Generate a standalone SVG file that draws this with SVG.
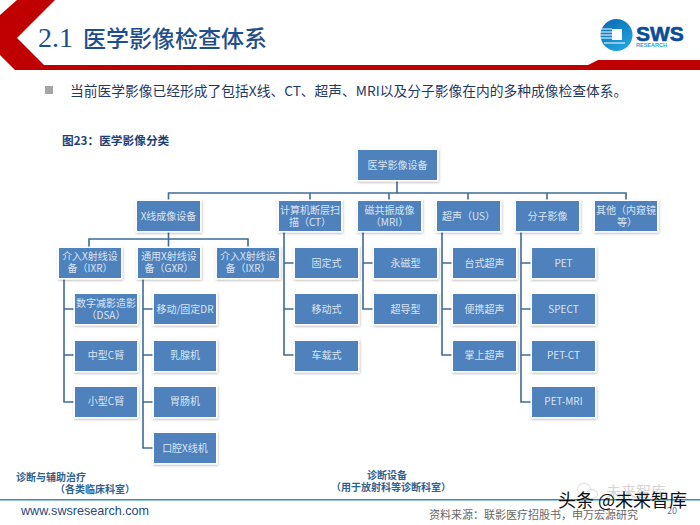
<svg xmlns="http://www.w3.org/2000/svg" width="700" height="525" viewBox="0 0 700 525">
<defs>
<filter id="sh" x="-15%" y="-15%" width="130%" height="140%"><feDropShadow dx="0.5" dy="1" stdDeviation="1" flood-color="#000" flood-opacity="0.3"/></filter>
<linearGradient id="lg" x1="0.2" y1="0" x2="0.8" y2="1"><stop offset="0" stop-color="#0a6db5"/><stop offset="1" stop-color="#22a8e0"/></linearGradient>
</defs>
<style>
text{font-family:"Noto Sans CJK SC","Noto Sans",sans-serif}
.b rect{fill:#4f81bd;stroke:#fff;stroke-width:3;paint-order:stroke;filter:url(#sh)}
.b text{fill:#dbe5f1;font-size:10px;text-anchor:middle}
.c path{fill:none;stroke:#3d6b99;stroke-width:1.6}
.lab{fill:#2f5f8f;font-size:10px;font-weight:700}
</style>
<rect width="700" height="525" fill="#fff"/>
<g id="header">
<polygon points="0,15 17,0 55,0 17,38 44,65 588,65 598,60 700,60 700,70 15,70 0,55" fill="#c00000"/>
<text x="38" y="47" font-size="28" fill="#1f4e8c" style="font-family:'Liberation Serif',serif">2.1</text>
<text x="83" y="47" font-size="23" font-weight="500" fill="#1f4e8c">医学影像检查体系</text>
</g>
<g id="logo">
<circle cx="616.500" cy="35" r="16" fill="url(#lg)"/>
<rect x="612" y="29" width="10" height="11" fill="#fff"/>
<path d="M600 29h12M600 32h12M600 35h12M600 38h12M604 43h21" stroke="#fff" stroke-width="1.200"/>
<text x="636" y="40.500" font-size="21" font-weight="700" fill="#0a4c9a" stroke="#0a4c9a" stroke-width="0.600" style="font-family:'Liberation Sans',sans-serif">SWS</text>
<text x="636" y="46.500" font-size="5.500" font-weight="700" fill="#29a3d8" style="font-family:'Liberation Sans',sans-serif">RESEARCH</text>
</g>
<rect x="45" y="86" width="8" height="8" fill="#a6a6a6"/>
<text x="70" y="96" font-size="13.750" fill="#1f3864">当前医学影像已经形成了包括X线、CT、超声、MRI以及分子影像在内的多种成像检查体系。</text>
<text x="62" y="145" font-size="11.700" font-weight="700" fill="#1f3f77">图23：医学影像分类</text>
<g id="connectors" class="c">
<path d="M397 180V193M168.500 201V193H626V201M310 193V201M389 193V201M468 193V201M547 193V201"/>
<path d="M168.500 231V239M89 248V239H248V248M168.500 239V248"/>
<path d="M64 277V402H75M64 309H75M64 355H75"/>
<path d="M143 277V448H154M143 309H154M143 355H154M143 402H154"/>
<path d="M284 231V355H295M284 263H295M284 309H295"/>
<path d="M363 231V309H374M363 263H374"/>
<path d="M442 231V355H453M442 263H453M442 309H453"/>
<path d="M521 231V402H532M521 263H532M521 309H532M521 355H532"/>
</g>
<g id="n-root" class="b"><rect x="358" y="150" width="79" height="30"/><text x="397.500" y="169">医学影像设备</text></g>
<g id="n-x" class="b"><rect x="137" y="201" width="63" height="30"/><text x="168.500" y="220">X线成像设备</text></g>
<g id="n-ct" class="b"><rect x="279" y="201" width="62" height="30"/><text x="310" y="214">计算机断层扫</text><text x="310" y="226">描（CT）</text></g>
<g id="n-mri" class="b"><rect x="358" y="201" width="63" height="30"/><text x="389.500" y="214">磁共振成像</text><text x="389.500" y="226">（MRI）</text></g>
<g id="n-us" class="b"><rect x="437" y="201" width="63" height="30"/><text x="468.500" y="220">超声（US）</text></g>
<g id="n-mol" class="b"><rect x="516" y="201" width="63" height="30"/><text x="547.500" y="220">分子影像</text></g>
<g id="n-other" class="b"><rect x="595" y="201" width="62" height="30"/><text x="626" y="214">其他（内窥镜</text><text x="627" y="226">等）</text></g>
<g id="n-ixr1" class="b"><rect x="59" y="248" width="62" height="30"/><text x="90" y="260">介入X射线设</text><text x="90" y="272">备（IXR）</text></g>
<g id="n-gxr" class="b"><rect x="138" y="248" width="62" height="30"/><text x="169" y="260">通用X射线设</text><text x="169" y="272">备（GXR）</text></g>
<g id="n-ixr2" class="b"><rect x="217" y="248" width="62" height="30"/><text x="248" y="260">介入X射线设</text><text x="248" y="272">备（IXR）</text></g>
<g id="n-dsa" class="b"><rect x="75" y="294" width="62" height="30"/><text x="106" y="307">数字减影造影</text><text x="106" y="319">（DSA）</text></g>
<g id="n-mc" class="b"><rect x="75" y="341" width="62" height="30"/><text x="106" y="359">中型C臂</text></g>
<g id="n-sc" class="b"><rect x="75" y="387" width="62" height="30"/><text x="106" y="405">小型C臂</text></g>
<g id="n-dr" class="b"><rect x="154" y="294" width="62" height="30"/><text x="185" y="313">移动/固定DR</text></g>
<g id="n-ru" class="b"><rect x="154" y="341" width="62" height="30"/><text x="185" y="359">乳腺机</text></g>
<g id="n-wei" class="b"><rect x="154" y="387" width="62" height="30"/><text x="185" y="405">胃肠机</text></g>
<g id="n-kq" class="b"><rect x="154" y="433" width="62" height="30"/><text x="185" y="452">口腔X线机</text></g>
<g id="n-gd" class="b"><rect x="295" y="248" width="63" height="30"/><text x="326.500" y="267">固定式</text></g>
<g id="n-yd" class="b"><rect x="295" y="294" width="63" height="30"/><text x="326.500" y="313">移动式</text></g>
<g id="n-cz" class="b"><rect x="295" y="341" width="63" height="30"/><text x="326.500" y="359">车载式</text></g>
<g id="n-yc" class="b"><rect x="374" y="248" width="63" height="30"/><text x="405.500" y="267">永磁型</text></g>
<g id="n-cd" class="b"><rect x="374" y="294" width="63" height="30"/><text x="405.500" y="313">超导型</text></g>
<g id="n-ts" class="b"><rect x="453" y="248" width="63" height="30"/><text x="484.500" y="267">台式超声</text></g>
<g id="n-bx" class="b"><rect x="453" y="294" width="63" height="30"/><text x="484.500" y="313">便携超声</text></g>
<g id="n-zs" class="b"><rect x="453" y="341" width="63" height="30"/><text x="484.500" y="359">掌上超声</text></g>
<g id="n-pet" class="b"><rect x="532" y="248" width="63" height="30"/><text x="563.500" y="267">PET</text></g>
<g id="n-spect" class="b"><rect x="532" y="294" width="63" height="30"/><text x="563.500" y="313">SPECT</text></g>
<g id="n-petct" class="b"><rect x="532" y="341" width="63" height="30"/><text x="563.500" y="359">PET-CT</text></g>
<g id="n-petmri" class="b"><rect x="532" y="387" width="63" height="30"/><text x="563.500" y="405">PET-MRI</text></g>
<text class="lab" x="16" y="481">诊断与辅助治疗</text>
<text class="lab" x="55" y="493">（各类临床科室）</text>
<text class="lab" x="367" y="479">诊断设备</text>
<text class="lab" x="331" y="491">（用于放射科等诊断科室）</text>
<rect x="0" y="499" width="700" height="1.500" fill="#2f8fb5"/>
<text x="21" y="515" font-size="12.600" fill="#2a4a7f" style="font-family:'Liberation Sans',sans-serif">www.swsresearch.com</text>
<text x="429" y="519" font-size="11" fill="#666">资料来源：联影医疗招股书，申万宏源研究</text>
<text x="667" y="514" font-size="9" fill="#4f81bd">20</text>
<g id="watermark">
<ellipse cx="584" cy="489" rx="6.500" ry="5.500" fill="none" stroke="#ddd"/>
<ellipse cx="592" cy="494" rx="5.500" ry="4.500" fill="none" stroke="#ddd"/>
<text x="606" y="497" font-size="15" fill="#d5d5d5">未来智库</text>
<text x="558" y="507" font-size="18" fill="#111">头条 @未来智库</text>
</g>
</svg>
